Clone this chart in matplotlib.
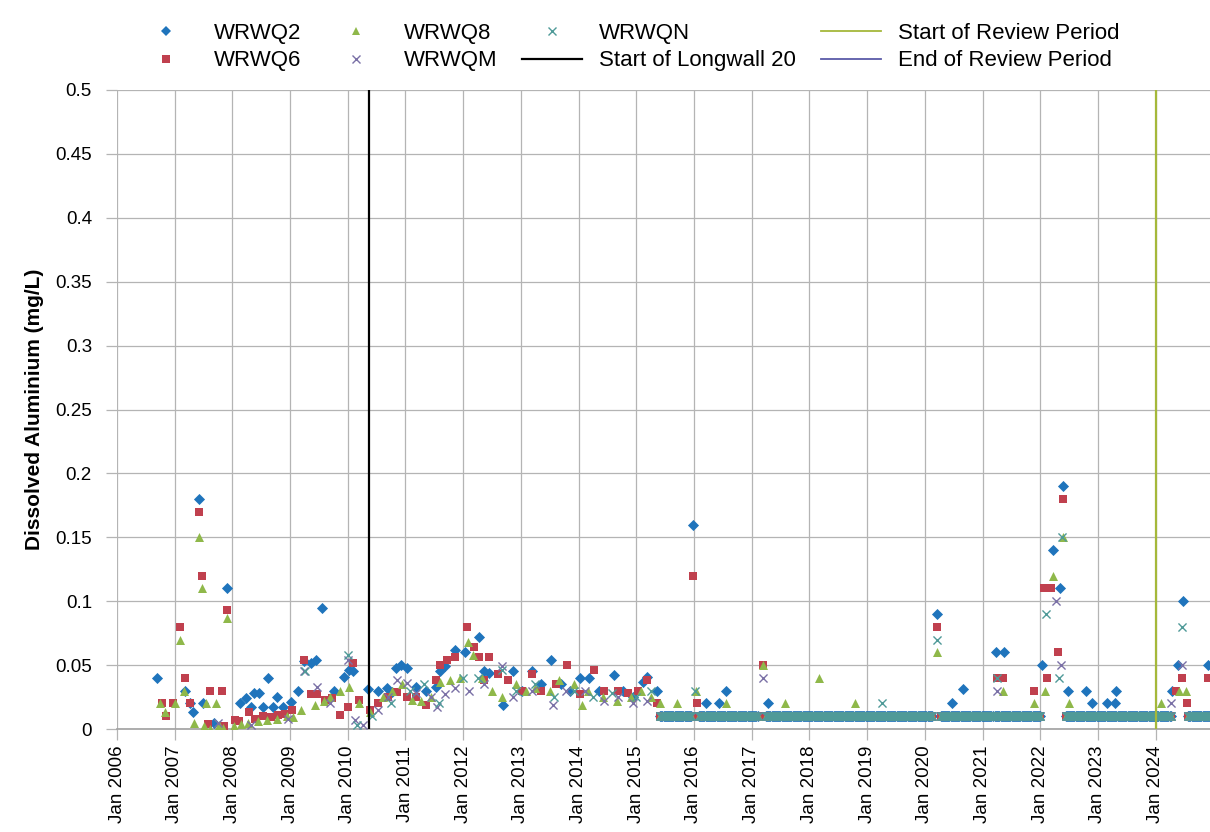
import numpy as np
import pandas as pd
from matplotlib import pyplot as plt
import matplotlib.dates as mdates
from matplotlib.lines import Line2D

plt.rcParams['font.family'] = ['Liberation Sans', 'DejaVu Sans']

# WRWQ2
q2_dates = ["2006-09-10", "2007-03-05", "2007-04-10", "2007-04-25", "2007-06-05", "2007-07-01",
            "2007-09-10", "2007-12-01", "2008-02-20", "2008-03-30", "2008-04-25", "2008-05-20",
            "2008-06-15", "2008-07-15", "2008-08-15", "2008-09-15", "2008-10-10", "2008-11-15",
            "2009-01-05", "2009-02-20", "2009-03-30", "2009-05-10", "2009-06-15", "2009-07-20",
            "2009-10-05", "2009-12-10", "2010-01-10", "2010-02-05", "2010-05-10", "2010-07-10",
            "2010-09-05", "2010-10-10", "2010-11-05", "2010-12-05", "2011-01-10", "2011-03-10",
            "2011-05-10", "2011-07-10", "2011-08-10", "2011-09-10", "2011-11-10", "2012-01-10",
            "2012-04-10", "2012-05-10", "2012-06-10", "2012-09-10", "2012-11-10", "2013-01-10",
            "2013-03-10", "2013-05-10", "2013-07-10", "2013-09-10", "2013-11-10", "2014-01-10",
            "2014-03-10", "2014-05-10", "2014-08-10", "2014-10-10", "2014-12-10", "2015-02-10",
            "2015-03-10", "2015-05-10",
            "2015-12-25", "2016-03-15", "2016-06-10", "2016-07-20", "2017-04-15",
            "2020-03-15", "2020-06-20", "2020-09-01", "2021-03-25", "2021-05-15", "2022-01-10",
            "2022-03-20", "2022-05-05", "2022-05-25", "2022-06-25", "2022-10-20", "2022-11-25",
            "2023-02-25", "2023-04-20", "2023-04-28", "2024-04-15", "2024-05-20", "2024-06-20",
            "2024-11-25"]
q2_vals = [0.04, 0.03, 0.02, 0.013, 0.18, 0.02,
           0.005, 0.11, 0.02, 0.024, 0.017, 0.028,
           0.028, 0.017, 0.04, 0.017, 0.025, 0.017,
           0.021, 0.03, 0.053, 0.052, 0.054, 0.095,
           0.03, 0.041, 0.046, 0.045, 0.031, 0.03,
           0.032, 0.029, 0.048, 0.05, 0.048, 0.033,
           0.03, 0.033, 0.045, 0.049, 0.062, 0.06,
           0.072, 0.045, 0.044, 0.019, 0.045, 0.03,
           0.045, 0.035, 0.054, 0.035, 0.03, 0.04,
           0.04, 0.03, 0.042, 0.03, 0.025, 0.037,
           0.041, 0.03,
           0.16, 0.02, 0.02, 0.03, 0.02,
           0.09, 0.02, 0.031, 0.06, 0.06, 0.05,
           0.14, 0.11, 0.19, 0.03, 0.03, 0.02,
           0.02, 0.02, 0.03, 0.03, 0.05, 0.10,
           0.05]

# WRWQ6
q6_dates = ["2006-10-10", "2006-11-10", "2006-12-20", "2007-02-05", "2007-03-05", "2007-04-05",
            "2007-06-05", "2007-06-20", "2007-08-15", "2007-10-25", "2007-12-01", "2008-01-15",
            "2008-04-15", "2008-07-15", "2008-10-15", "2009-01-15", "2009-04-01", "2009-05-15",
            "2009-06-20", "2009-08-10", "2009-09-20", "2009-11-10", "2010-01-05", "2010-02-01",
            "2010-03-10", "2010-05-20", "2010-07-10", "2010-09-10", "2010-11-10", "2011-01-10",
            "2011-03-10", "2011-05-10", "2011-07-10", "2011-08-10", "2011-09-20", "2011-11-10",
            "2012-01-25", "2012-03-10", "2012-04-10", "2012-05-10", "2012-06-10", "2012-08-10",
            "2012-10-10", "2013-01-10", "2013-03-10", "2013-05-10", "2013-08-10", "2013-10-20",
            "2014-01-10", "2014-04-10", "2014-06-10", "2014-09-10", "2014-11-10", "2015-01-10",
            "2015-03-10", "2015-05-10",
            "2007-08-01", "2007-11-10", "2008-02-10", "2008-05-25", "2008-09-01", "2008-12-01",
            "2015-12-28", "2016-01-20", "2017-03-10", "2020-03-20", "2021-04-01", "2021-05-10",
            "2021-11-20", "2022-01-25", "2022-03-10", "2022-02-10", "2022-04-25", "2022-05-25",
            "2024-05-10", "2024-06-15", "2024-07-20", "2024-11-25"]
q6_vals = [0.02, 0.01, 0.02, 0.08, 0.04, 0.02,
           0.17, 0.12, 0.03, 0.03, 0.093, 0.007,
           0.013, 0.01, 0.011, 0.015, 0.054, 0.027,
           0.027, 0.023, 0.024, 0.011, 0.017, 0.052,
           0.023, 0.015, 0.02, 0.025, 0.029, 0.025,
           0.025, 0.019, 0.038, 0.05, 0.054, 0.056,
           0.08, 0.064, 0.056, 0.038, 0.056, 0.043,
           0.038, 0.03, 0.043, 0.03, 0.035, 0.05,
           0.027, 0.046, 0.03, 0.03, 0.028, 0.03,
           0.038, 0.02,
           0.004, 0.002, 0.006, 0.008, 0.009, 0.012,
           0.12, 0.02, 0.05, 0.08, 0.04, 0.04,
           0.03, 0.11, 0.11, 0.04, 0.06, 0.18,
           0.03, 0.04, 0.02, 0.04]

# WRWQ8
q8_dates = ["2006-10-01", "2006-11-01", "2007-01-05", "2007-02-05", "2007-03-01", "2007-06-05",
            "2007-06-20", "2007-07-20", "2007-09-20", "2007-12-01", "2008-01-10", "2008-04-10",
            "2008-08-10", "2008-12-10", "2009-03-10", "2009-06-10", "2009-09-10", "2009-11-10",
            "2010-01-10", "2010-03-10", "2010-05-20", "2010-08-10", "2010-10-10", "2010-12-10",
            "2011-02-10", "2011-04-10", "2011-06-10", "2011-08-10", "2011-10-10", "2011-12-10",
            "2012-02-01", "2012-03-01", "2012-05-01", "2012-07-01", "2012-09-01", "2012-12-01",
            "2013-02-01", "2013-04-01", "2013-07-01", "2013-09-01", "2013-12-01", "2014-01-20",
            "2014-03-01", "2014-06-01", "2014-09-01", "2014-12-01", "2015-02-01", "2015-04-01",
            "2007-05-01", "2007-07-05", "2007-08-10", "2007-10-10", "2007-11-05", "2008-02-25",
            "2008-06-10", "2008-10-10", "2009-01-20", "2009-08-01",
            "2015-06-01", "2015-09-15", "2016-01-15", "2016-07-20", "2017-03-10", "2017-08-01",
            "2018-03-01", "2018-10-15", "2020-03-15", "2021-05-10", "2021-11-25", "2022-02-01",
            "2022-03-20", "2022-05-25", "2022-07-01", "2024-02-01", "2024-05-25", "2024-07-10"]
q8_vals = [0.02, 0.013, 0.02, 0.07, 0.03, 0.15,
           0.11, 0.02, 0.02, 0.087, 0.002, 0.005,
           0.007, 0.01, 0.015, 0.019, 0.025, 0.03,
           0.033, 0.02, 0.013, 0.025, 0.03, 0.035,
           0.023, 0.022, 0.025, 0.037, 0.038, 0.04,
           0.068, 0.058, 0.04, 0.03, 0.025, 0.035,
           0.03, 0.032, 0.03, 0.038, 0.035, 0.019,
           0.03, 0.025, 0.022, 0.025, 0.03, 0.025,
           0.005, 0.002, 0.0, 0.003, 0.001, 0.004,
           0.006, 0.008, 0.009, 0.022,
           0.02, 0.02, 0.03, 0.02, 0.05, 0.02,
           0.04, 0.02, 0.06, 0.03, 0.02, 0.03,
           0.12, 0.15, 0.02, 0.02, 0.03, 0.03]

# WRWQM
qm_dates = ["2007-10-01", "2008-05-01", "2008-12-20", "2009-04-01", "2009-06-20", "2009-09-10",
            "2010-01-05", "2010-02-15", "2010-04-10", "2010-07-10", "2010-09-10", "2010-11-10",
            "2011-01-10", "2011-03-10", "2011-06-10", "2011-07-20", "2011-09-10", "2011-11-10",
            "2012-02-10", "2012-05-10", "2012-09-01", "2012-11-10", "2013-03-10", "2013-07-20",
            "2013-10-10", "2014-02-10", "2014-06-10", "2014-09-10", "2014-12-10", "2015-03-10",
            "2017-03-10", "2021-04-01", "2022-04-10", "2022-05-15", "2024-04-10", "2024-06-15"]
qm_vals = [0.005, 0.003, 0.008, 0.045, 0.033, 0.02,
           0.054, 0.007, 0.003, 0.015, 0.025, 0.038,
           0.036, 0.028, 0.025, 0.017, 0.027, 0.032,
           0.03, 0.035, 0.049, 0.025, 0.03, 0.019,
           0.03, 0.03, 0.022, 0.025, 0.02, 0.022,
           0.04, 0.03, 0.10, 0.05, 0.02, 0.05]

# WRWQN
qn_dates = ["2009-04-05", "2010-01-01", "2010-03-01", "2010-06-01", "2010-10-01", "2011-02-01",
            "2011-05-01", "2011-08-01", "2012-01-01", "2012-04-01", "2012-09-05", "2012-12-01",
            "2013-04-01", "2013-08-01", "2013-12-01", "2014-04-01", "2014-08-01", "2015-01-01",
            "2015-04-01", "2016-01-10", "2019-04-05", "2020-03-18", "2021-04-05", "2022-02-05",
            "2022-05-20", "2022-05-01", "2024-06-18"]
qn_vals = [0.045, 0.058, 0.003, 0.01, 0.02, 0.03,
           0.035, 0.02, 0.04, 0.04, 0.046, 0.03,
           0.035, 0.025, 0.03, 0.025, 0.028, 0.025,
           0.03, 0.03, 0.02, 0.07, 0.04, 0.09,
           0.15, 0.04, 0.08]

# runs of detection-limit results (0.01 mg/L) read as a solid band from mid 2015
dl_runs = [("2015-06-01", "2015-12-20"), ("2016-02-01", "2017-02-10"), ("2017-04-01", "2020-02-20"),
           ("2020-04-10", "2021-03-10"), ("2021-03-20", "2022-01-01"), ("2022-06-10", "2024-01-01"),
           ("2024-01-05", "2024-04-10"), ("2024-07-25", "2024-12-31")]
dl_value = 0.01

longwall20 = "2010-05-12"
review_start = "2024-01-01"
review_end = "2024-12-31"

series = [
    ("WRWQ2", q2_dates, q2_vals, dict(marker="D", color="#1f74bc", s=32, linewidths=0)),
    ("WRWQ6", q6_dates, q6_vals, dict(marker="s", color="#c0404e", s=28, linewidths=0)),
    ("WRWQ8", q8_dates, q8_vals, dict(marker="^", color="#8fb84a", s=42, linewidths=0)),
    ("WRWQM", qm_dates, qm_vals, dict(marker="x", color="#7a70a6", s=34, linewidths=1.0)),
    ("WRWQN", qn_dates, qn_vals, dict(marker="x", color="#4f9a98", s=34, linewidths=1.0)),
]

dl_dates = pd.DatetimeIndex([])
for start, end in dl_runs:
    dl_dates = dl_dates.append(pd.date_range(start, end, freq="7D"))

fig = plt.figure(figsize=(12.1, 8.32), dpi=100)
ax = fig.add_axes([117 / 1210, 103 / 832, 1 - 117 / 1210, 639 / 832])

for name, dates, vals, style in series:
    ax.scatter(pd.to_datetime(dates), vals, zorder=3, **style)
for name, dates, vals, style in series:
    ax.scatter(dl_dates, np.full(len(dl_dates), dl_value), zorder=3, **style)

ax.axvline(pd.Timestamp(longwall20), color="black", lw=1.6, zorder=4)
ax.axvline(pd.Timestamp(review_start), color="#a5b83a", lw=1.6, zorder=4)
ax.axvline(pd.Timestamp(review_end), color="#5a5aa8", lw=1.6, zorder=4)

ax.set_xlim(pd.Timestamp("2006-01-01"), pd.Timestamp("2024-12-10"))
ax.set_ylim(0, 0.5)

yt = np.arange(0, 0.501, 0.05)
ax.set_yticks(yt)
ax.set_yticklabels(["0"] + ["%g" % v for v in yt[1:]])
ax.xaxis.set_major_locator(mdates.YearLocator())
ax.xaxis.set_major_formatter(mdates.DateFormatter("%b %Y"))
plt.setp(ax.get_xticklabels(), rotation=90)

ax.grid(True, color="#b4b4b4", lw=0.9, zorder=0)
ax.set_axisbelow(True)
ax.tick_params(axis="both", length=8, width=0.9, color="#b4b4b4", labelsize=13.5)
ax.tick_params(axis="y", pad=10)
ax.tick_params(axis="x", pad=4)
for side in ["left", "right", "top"]:
    ax.spines[side].set_visible(False)
ax.spines["bottom"].set_color("#a0a0a0")
ax.spines["bottom"].set_linewidth(1.2)

ax.set_ylabel("Dissolved Aluminium (mg/L)", fontsize=15, fontweight="bold", labelpad=8)

handles = []
for name, dates, vals, style in series:
    handles.append(Line2D([], [], linestyle="none", marker=style["marker"], color=style["color"],
                          markersize=5.5, markeredgewidth=1.0 if style["marker"] == "x" else 0,
                          label=name))
handles.append(Line2D([], [], color="black", lw=1.6, label="Start of Longwall 20"))
handles.append(Line2D([], [], color="#a5b83a", lw=1.3, label="Start of Review Period"))
handles.append(Line2D([], [], color="#5a5aa8", lw=1.3, label="End of Review Period"))

fig.legend(handles=handles, ncol=4, loc="center", bbox_to_anchor=(0.519, 0.9435),
           frameon=False, fontsize=16, handlelength=2.7, handletextpad=0.8,
           columnspacing=1.1, labelspacing=0.3)

fig.savefig("out.png", dpi=100)
